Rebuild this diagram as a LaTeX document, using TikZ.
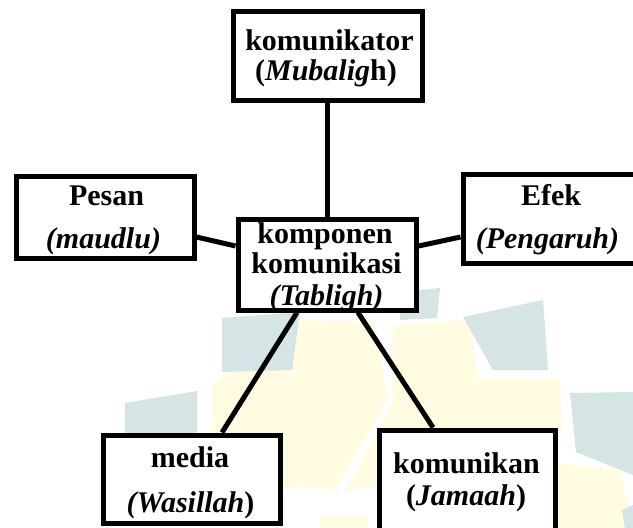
\documentclass[tikz,border=0pt]{standalone}
\usepackage{fontspec}
\setmainfont{Liberation Serif}
\definecolor{wmcyan}{RGB}{213,228,228}
\definecolor{wmyellow}{RGB}{255,252,226}
\begin{document}
\begin{tikzpicture}[x=1pt,y=-1pt,
  box/.style={draw=black, line width=5pt, fill=white, inner sep=0pt, rectangle},
  txt/.style={inner sep=0pt, anchor=base, font=\fontsize{30pt}{30pt}\selectfont\bfseries},
  conn/.style={draw=black, line width=5pt}]
\useasboundingbox (0,0) rectangle (633,528);
\clip (0,0) rectangle (633,528);

% faint watermark in the background
\fill[wmyellow] (213,385) -- (300,320) -- (375,322) -- (388,400) -- (335,490) -- (213,482) -- cycle;
\fill[wmyellow] (393,325) -- (470,320) -- (478,378) -- (560,380) -- (562,430) -- (478,468) -- (345,492) -- (392,405) -- cycle;
\fill[wmyellow] (557,463) -- (620,470) -- (633,528) -- (557,528) -- cycle;
\fill[wmyellow] (320,517) -- (367,515) -- (367,528) -- (320,528) -- cycle;
\fill[wmcyan] (222,318) -- (300,312) -- (292,370) -- (222,372) -- cycle;
\fill[wmcyan] (400,292) -- (440,288) -- (437,318) -- (400,320) -- cycle;
\fill[wmcyan] (463,317) -- (543,300) -- (548,370) -- (493,370) -- cycle;
\fill[wmcyan] (570,393) -- (633,392) -- (633,475) -- (576,452) -- cycle;
\fill[wmcyan] (125,403) -- (197,391) -- (197,435) -- (125,435) -- cycle;
\fill[wmcyan] (622,510) -- (633,505) -- (633,528) -- (625,528) -- cycle;

% boxes
\node[box, minimum width=189pt, minimum height=89pt] (komunikator) at (327.5,55.5) {};
\node[box, minimum width=178pt, minimum height=82pt] (pesan) at (105,217) {};
\node[box, minimum width=177pt, minimum height=89pt] (efek) at (551.5,218.5) {};
\node[box, minimum width=178pt, minimum height=91pt] (pusat) at (327,264.5) {};
\node[box, minimum width=177pt, minimum height=88pt] (media) at (191.5,479) {};
\node[box, minimum width=176pt, minimum height=108pt] (komunikan) at (467,484) {};

% connectors
\draw[conn] (komunikator.south) -- (komunikator.south |- pusat.north);
\draw[conn] ([yshift=-20pt]pesan.east) -- ([yshift=18.5pt]pusat.west);
\draw[conn] ([yshift=-18.5pt]efek.west) -- ([yshift=18.5pt]pusat.east);
\draw[conn] ([xshift=-30pt]pusat.south) -- ([xshift=30.5pt]media.north);
\draw[conn] ([xshift=31pt]pusat.south) -- ([xshift=-34pt]komunikan.north);

% labels
\node[txt] (komunikatorA) at (329.5,50) {komunikator};
\node[txt] (komunikatorB) at (326,80) {(\textit{Mubalig}h)};
\node[txt] (pesanA) at (106.5,205) {Pesan};
\node[txt] (pesanB) at (103.5,248) {\textit{(maudlu)}};
\node[txt] (efekA) at (551,205) {Efek};
\node[txt] (efekB) at (547.5,248) {\textit{(Pengaruh)}};
\node[txt] (pusatA) at (325,243) {komponen};
\node[txt] (pusatB) at (326.5,273) {komunikasi};
\node[txt] (pusatC) at (326.5,305) {\textit{(Tabligh)}};
\node[txt] (mediaA) at (190,467) {media};
\node[txt] (mediaB) at (190.5,512) {\textit{(Wasillah})};
\node[txt] (komunikanA) at (466.5,473) {komunikan};
\node[txt] (komunikanB) at (466,505) {(\textit{Jamaah})};
\end{tikzpicture}
\end{document}
